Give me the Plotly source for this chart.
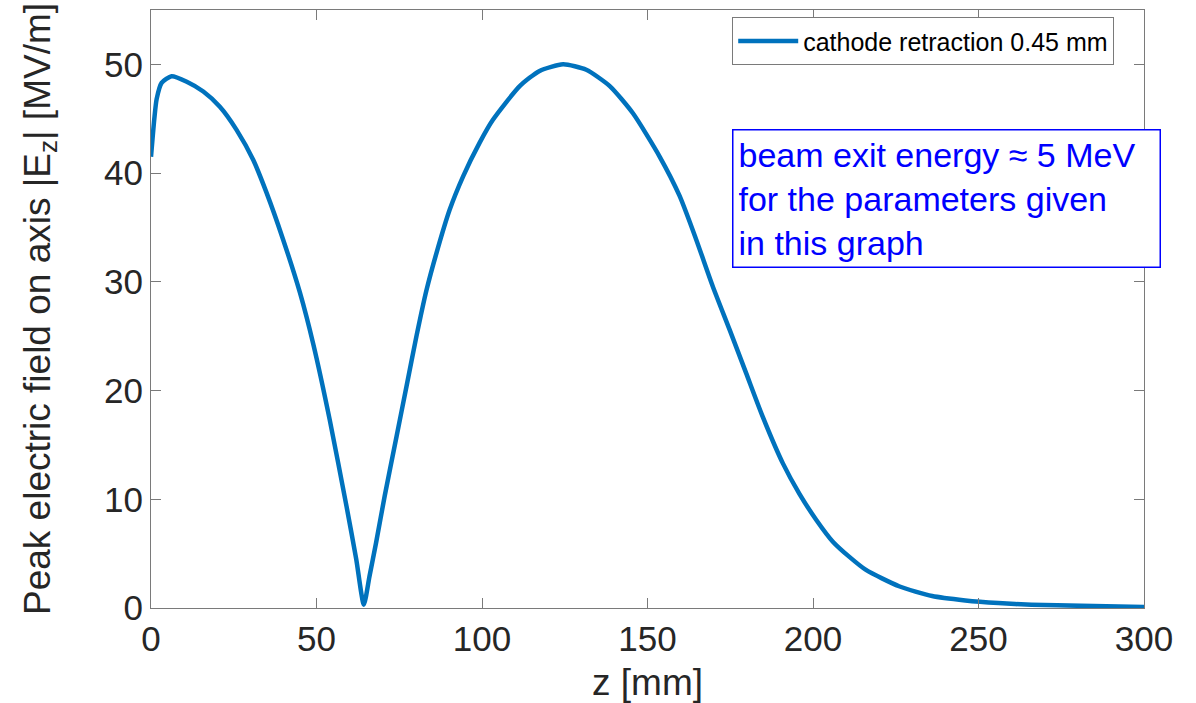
import plotly.graph_objects as go

# z position along axis [mm]
z_mm = [0, 1.0, 1.7, 3.2, 6.2, 10.8, 15.8, 20.8, 25.8, 30.9, 34.9, 39.9, 45.0, 49.0,
        54.0, 59.1, 62.0, 64.3, 66.0, 68.0, 70.6, 74.2, 77.2, 80.2, 83.2, 86.2, 90.2,
        94.3, 99.3, 103.3, 111.4, 117.4, 124.5, 131.5, 138.6, 145.6, 153.7, 159.7,
        164.7, 169.7, 174.8, 179.8, 184.8, 190.9, 195.9, 201.0, 206.0, 211.0, 216.0,
        226.0, 236.0, 246.0, 256.0, 266.0, 281.0, 300.0]
# peak electric field |Ez| [MV/m]
ez_peak = [41.5, 45.0, 46.8, 48.3, 48.9, 48.4, 47.5, 46.1, 44.0, 41.2, 38.2, 33.9, 29.0, 24.3,
           17.3, 9.3, 4.5, 0.3, 2.9, 6.0, 10.3, 15.8, 20.4, 25.0, 29.2, 32.6, 36.6,
           39.7, 42.8, 44.9, 48.0, 49.4, 50.0, 49.5, 48.0, 45.5, 41.5, 37.9,
           33.9, 29.6, 25.6, 21.6, 17.6, 13.3, 10.5, 8.1, 6.1, 4.7, 3.5,
           2.0, 1.1, 0.7, 0.45, 0.3, 0.2, 0.1]

series_name = "cathode retraction 0.45 mm"
x_ticks = [0, 50, 100, 150, 200, 250, 300]
y_ticks = [0, 10, 20, 30, 40, 50]

FONT = "Arial, Liberation Sans, Helvetica, sans-serif"
AXIS_GRAY = "#7a7a7a"
TEXT_DARK = "#262626"

fig = go.Figure()
fig.add_trace(go.Scatter(
    x=z_mm, y=ez_peak, mode="lines", name=series_name,
    line=dict(color="#0072BD", width=4.5, shape="spline", smoothing=0.6),
))

fig.update_layout(
    width=1196, height=703,
    margin=dict(l=151, r=52, t=10, b=95),
    paper_bgcolor="white", plot_bgcolor="white",
    font=dict(family=FONT, color=TEXT_DARK),
    showlegend=True,
    legend=dict(
        x=0.970, y=0.988, xanchor="right", yanchor="top",
        bgcolor="white", bordercolor=AXIS_GRAY, borderwidth=1,
        font=dict(size=25, color="#000000", family=FONT),
        tracegroupgap=0, itemwidth=60,
    ),
)

fig.update_xaxes(
    range=[0, 300], tickvals=x_ticks, ticktext=[str(v) for v in x_ticks],
    showgrid=False, zeroline=False, automargin=False,
    showline=True, linecolor=AXIS_GRAY, linewidth=1, mirror="allticks",
    ticks="inside", ticklen=10, tickcolor=AXIS_GRAY, tickwidth=1,
    tickfont=dict(size=35, color=TEXT_DARK, family=FONT),
    title=dict(text="z [mm]", font=dict(size=37, color=TEXT_DARK, family=FONT), standoff=14),
)
fig.update_yaxes(
    range=[0, 55], tickvals=y_ticks, ticktext=[str(v) for v in y_ticks],
    showgrid=False, zeroline=False, automargin=False,
    showline=True, linecolor=AXIS_GRAY, linewidth=1, mirror="allticks",
    ticks="inside", ticklen=10, tickcolor=AXIS_GRAY, tickwidth=1,
    tickfont=dict(size=35, color=TEXT_DARK, family=FONT),
    title=dict(text="Peak electric field on axis |E<sub>z</sub>| [MV/m]",
               font=dict(size=37, color=TEXT_DARK, family=FONT), standoff=42),
)

fig.add_annotation(
    xref="paper", yref="paper", x=0.585, y=0.801, xanchor="left", yanchor="top",
    text="beam exit energy \u2248 5 MeV<br>for the parameters given<br>in this graph",
    align="left", showarrow=False, width=416,
    font=dict(size=34, color="#0000FF", family=FONT),
    bordercolor="#0000FF", borderwidth=1.5, borderpad=5, bgcolor="white",
)

fig.write_html("out.html")
